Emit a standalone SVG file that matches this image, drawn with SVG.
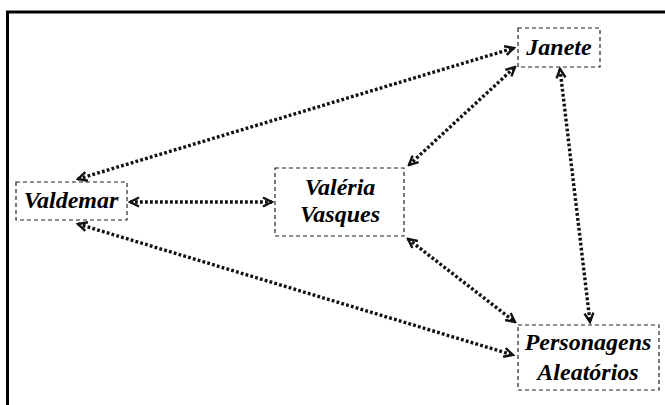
<svg xmlns="http://www.w3.org/2000/svg" width="665" height="405" viewBox="0 0 665 405">
<style>
.box{fill:#fff;stroke:#222;stroke-width:1.2;stroke-dasharray:4 3}
.lbl{font-family:"Liberation Serif","Times New Roman",serif;font-weight:bold;font-style:italic;font-size:24px;fill:#000;text-anchor:middle}
.con{stroke:#111;stroke-width:3.4;stroke-dasharray:2.8 2.2;fill:none;marker-start:url(#ah);marker-end:url(#ah)}
</style>
<defs>
<marker id="ah" viewBox="0 0 12 12" refX="10" refY="6" markerWidth="12" markerHeight="12" markerUnits="userSpaceOnUse" orient="auto-start-reverse">
<path d="M1,1.5 L10,6 L1,10.5" fill="none" stroke="#111" stroke-width="2.4"/>
</marker>
</defs>
<rect width="665" height="405" fill="#fff"/>
<path d="M7.5,405 V12 H665" fill="none" stroke="#000" stroke-width="3"/>
<g id="connectors">
<line class="con" x1="78" y1="179" x2="514" y2="48"/>
<line class="con" x1="130" y1="202" x2="272" y2="202"/>
<line class="con" x1="78" y1="224" x2="513" y2="355"/>
<line class="con" x1="409" y1="165" x2="515" y2="67"/>
<line class="con" x1="408" y1="239" x2="515" y2="322"/>
<line class="con" x1="560" y1="69" x2="590" y2="322"/>
</g>
<g id="janete">
<rect class="box" x="518" y="28" width="82" height="39"/>
<text class="lbl" x="559" y="55">Janete</text>
</g>
<g id="valdemar">
<rect class="box" x="16" y="182" width="111" height="38"/>
<text class="lbl" x="71" y="208">Valdemar</text>
</g>
<g id="valeria">
<rect class="box" x="275" y="168" width="129" height="68"/>
<text class="lbl" x="340" y="195">Valéria</text>
<text class="lbl" x="340" y="222">Vasques</text>
</g>
<g id="personagens">
<rect class="box" x="518" y="325" width="141" height="65"/>
<text class="lbl" x="588" y="350">Personagens</text>
<text class="lbl" x="588" y="380">Aleatórios</text>
</g>
</svg>
